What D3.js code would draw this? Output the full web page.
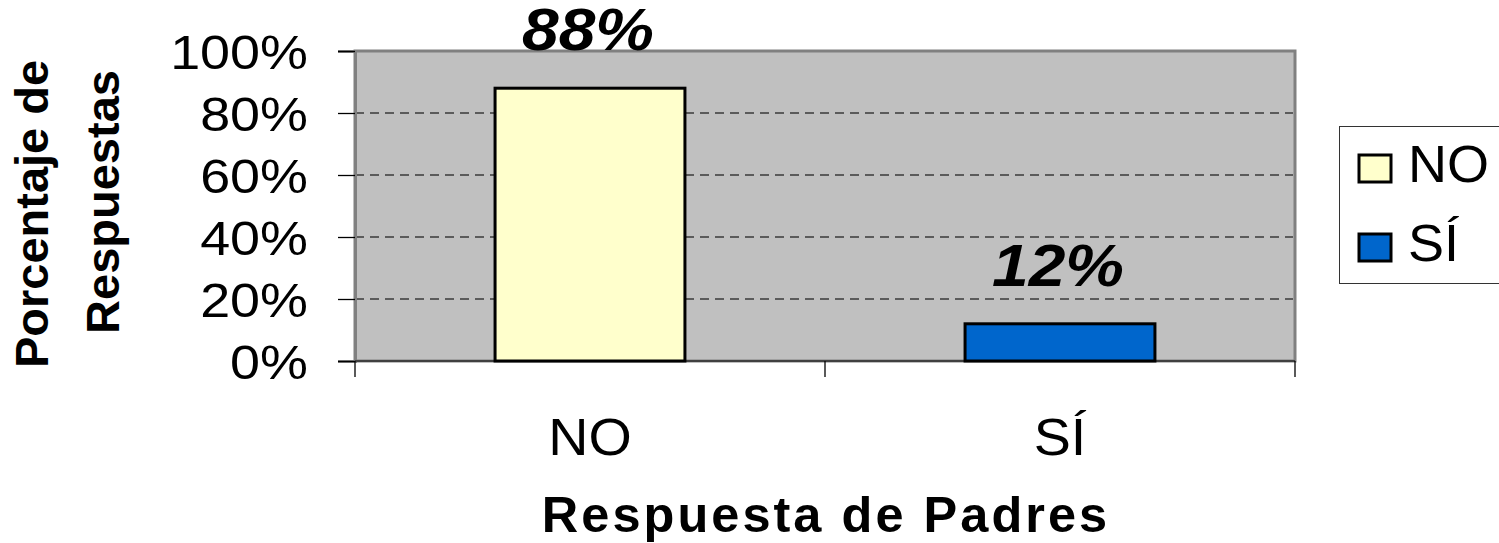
<!DOCTYPE html>
<html>
<head>
<meta charset="utf-8">
<script src="https://cdn.jsdelivr.net/npm/d3@7"></script>
<style>
  body { margin: 0; background: #fff; }
  svg { display: block; font-family: "Liberation Sans", Arial, sans-serif; }
</style>
</head>
<body>
<svg id="chart" width="1499" height="543"></svg>
<script>
var categories = ["NO", "SÍ"];
var values = [0.88, 0.12];
var barColors = ["#ffffcc", "#0066cc"];
var yTicks = [0, 0.2, 0.4, 0.6, 0.8, 1];
var yTitle = ["Porcentaje de", "Respuestas"];
var xTitle = "Respuesta de Padres";

var svg = d3.select("#chart"),
    plot = {left: 355, right: 1295, top: 51, bottom: 361};

var x = d3.scaleBand().domain(categories).range([plot.left, plot.right])
    .paddingInner(0.596).paddingOuter(0.298);
var y = d3.scaleLinear().domain([0, 1]).range([plot.bottom, plot.top]);
var pct = function(d) { return Math.round(d * 100) + "%"; };

// the original fonts are a bit wider than Liberation Sans
function stretch(sel, k) {
  sel.each(function() {
    var w = this.getComputedTextLength();
    d3.select(this).attr("textLength", w * k).attr("lengthAdjust", "spacingAndGlyphs");
  });
}

// plot background
svg.append("rect")
    .attr("x", plot.left).attr("y", plot.top)
    .attr("width", plot.right - plot.left).attr("height", plot.bottom - plot.top)
    .attr("fill", "#c0c0c0")
    .attr("stroke", "#808080").attr("stroke-width", 3);

// grid
svg.append("g")
    .selectAll("line")
    .data(yTicks.filter(function(d) { return d > 0 && d < 1; }))
    .enter().append("line")
      .attr("x1", plot.left).attr("x2", plot.right - 2)
      .attr("y1", function(d) { return y(d); }).attr("y2", function(d) { return y(d); })
      .attr("stroke", "#3a3a3a").attr("stroke-width", 1.3)
      .attr("stroke-dasharray", "9,6");

// y axis
var yAxis = svg.append("g")
    .attr("transform", "translate(" + plot.left + ",0)")
    .call(d3.axisLeft(y).tickValues(yTicks).tickFormat(pct).tickSize(17).tickPadding(30));
yAxis.select(".domain").attr("stroke", "#808080").attr("stroke-width", 3);
yAxis.selectAll(".tick line").attr("stroke", "#000").attr("stroke-width", 1.3);
yAxis.selectAll(".tick text")
    .attr("font-family", "Liberation Sans, Arial, sans-serif")
    .attr("font-size", 49).attr("fill", "#000").attr("dy", "0.36em")
    .call(stretch, 1.1);

// x axis
svg.append("line")
    .attr("x1", plot.left).attr("x2", plot.right)
    .attr("y1", plot.bottom).attr("y2", plot.bottom)
    .attr("stroke", "#404040").attr("stroke-width", 2);
var bounds = [plot.left].concat(categories.map(function(c) { return x(c) + x.bandwidth() / 2 + x.step() / 2; }));
svg.append("g").selectAll("line")
    .data(bounds)
    .enter().append("line")
      .attr("x1", function(d) { return d; }).attr("x2", function(d) { return d; })
      .attr("y1", plot.bottom).attr("y2", plot.bottom + 16)
      .attr("stroke", "#000").attr("stroke-width", 1.3);

svg.append("g").selectAll("text")
    .data(categories)
    .enter().append("text")
      .attr("x", function(d) { return x(d) + x.bandwidth() / 2; })
      .attr("y", 455)
      .attr("text-anchor", "middle")
      .attr("font-size", 52)
      .text(function(d) { return d; })
      .call(stretch, 1.07);

// bars
svg.append("g").selectAll("rect")
    .data(values)
    .enter().append("rect")
      .attr("x", function(d, i) { return x(categories[i]); })
      .attr("y", function(d) { return y(d); })
      .attr("width", x.bandwidth())
      .attr("height", function(d) { return y(0) - y(d); })
      .attr("fill", function(d, i) { return barColors[i]; })
      .attr("stroke", "#000").attr("stroke-width", 3);

// value labels
svg.append("g").selectAll("text")
    .data(values)
    .enter().append("text")
      .attr("x", function(d, i) { return x(categories[i]) + x.bandwidth() / 2 - 2; })
      .attr("y", function(d) { return y(d) - 38; })
      .attr("text-anchor", "middle")
      .attr("font-size", 60).attr("font-weight", "bold").attr("font-style", "italic")
      .text(pct)
      .call(stretch, 1.1);

// axis titles
svg.append("text")
    .attr("transform", "translate(48,214) rotate(-90)")
    .attr("text-anchor", "middle")
    .attr("font-size", 47).attr("font-weight", "bold")
    .text(yTitle[0]);
svg.append("text")
    .attr("transform", "translate(119,202) rotate(-90)")
    .attr("text-anchor", "middle")
    .attr("font-size", 47).attr("font-weight", "bold")
    .text(yTitle[1]);

svg.append("text")
    .attr("x", 826).attr("y", 532)
    .attr("text-anchor", "middle")
    .attr("font-size", 50).attr("font-weight", "bold")
    .attr("letter-spacing", 3)
    .text(xTitle)
    .call(stretch, 1.01);

// legend
var legend = svg.append("g");
legend.append("rect")
    .attr("x", 1339.5).attr("y", 126.5)
    .attr("width", 200).attr("height", 157)
    .attr("fill", "#fff").attr("stroke", "#333").attr("stroke-width", 1);
var item = legend.selectAll(".item")
    .data(categories)
    .enter().append("g")
      .attr("class", "item")
      .attr("transform", function(d, i) { return "translate(1359," + (155 + i * 79) + ")"; });
item.append("rect")
    .attr("width", 32).attr("height", 27)
    .attr("fill", function(d, i) { return barColors[i]; })
    .attr("stroke", "#000").attr("stroke-width", 3);
item.append("text")
    .attr("x", 49).attr("y", 27)
    .attr("font-size", 51)
    .text(function(d) { return d; })
    .call(stretch, 1.06);
</script>
</body>
</html>
